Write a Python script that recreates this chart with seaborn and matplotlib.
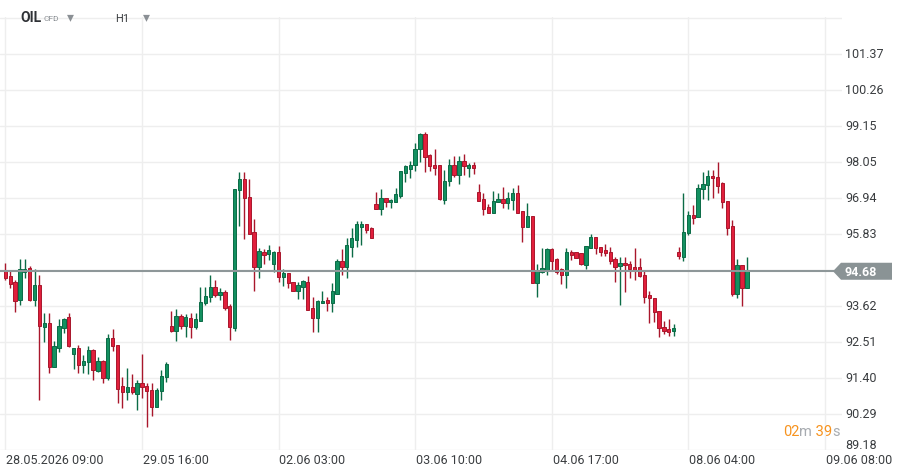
import matplotlib
matplotlib.use("Agg")
import matplotlib.pyplot as plt
import matplotlib.transforms as mtransforms
from matplotlib.patches import Polygon
import numpy as np
import pandas as pd
import seaborn as sns

# ---------------- data ----------------
opens = [94.69, 94.53, 94.34, 93.81, 94.65, 94.78, 93.81, 94.26, 92.98, 93.09,
         91.75, 92.33, 92.95, 93.28, 92.12, 92.32, 91.81, 91.88, 92.26, 91.62,
         91.92, 91.41, 92.63, 92.40, 91.15, 90.98, 91.11, 90.91, 91.24, 91.14,
         91.03, 90.50, 90.99, 91.42, 92.99, 92.83, 93.30, 93.01, 93.23, 92.98,
         93.14, 93.70, 93.88, 94.20, 93.96, 94.03, 93.62, 92.95, 97.19, 97.52,
         96.95, 95.90, 94.82, 95.26, 95.22, 94.91, 95.27, 94.51, 94.63, 94.34,
         94.06, 94.21, 94.34, 93.55, 93.24, 93.69, 93.79, 93.71, 93.99, 95.00,
         94.82, 95.44, 95.65, 96.05, 96.12, 96.01, 96.74, 96.60, 96.92, 96.80,
         96.82, 96.99, 97.71, 97.83, 97.94, 98.43, 98.90, 98.26, 97.94, 97.94,
         96.88, 97.45, 97.94, 97.65, 98.06, 97.87, 97.95, 97.12, 96.90, 96.65,
         96.48, 96.80, 96.90, 96.79, 96.88, 97.09, 96.53, 96.05, 96.37, 94.33,
         94.65, 94.72, 95.35, 95.06, 94.74, 94.58, 95.26, 95.26, 95.23, 94.88,
         95.38, 95.72, 95.42, 95.33, 95.27, 95.06, 94.83, 94.94, 94.90, 94.81,
         94.81, 94.58, 93.95, 93.86, 93.46, 92.97, 92.91, 92.85, 95.26, 95.11,
         95.85, 96.41, 96.34, 97.20, 97.33, 97.60, 97.58, 97.39, 96.84, 96.07,
         93.99, 94.87, 94.18]
highs = [94.94, 94.70, 94.41, 95.06, 95.06, 94.83, 94.75, 94.57, 93.40, 93.40,
         92.54, 93.21, 93.23, 93.40, 92.32, 92.40, 92.11, 92.38, 92.29, 92.03,
         91.95, 92.74, 92.91, 92.40, 91.44, 91.71, 91.52, 91.34, 92.14, 91.24,
         91.24, 91.08, 91.65, 91.90, 93.45, 93.52, 93.37, 93.37, 93.39, 93.40,
         94.21, 94.19, 94.57, 94.41, 94.17, 94.10, 93.67, 97.21, 97.72, 97.72,
         97.52, 96.29, 95.38, 95.37, 95.49, 95.30, 95.46, 94.75, 94.63, 94.34,
         94.34, 94.42, 94.53, 93.88, 93.79, 94.06, 93.88, 94.31, 95.06, 95.35,
         95.70, 96.01, 96.23, 96.23, 96.12, 96.05, 97.12, 97.21, 96.92, 96.90,
         97.24, 97.75, 97.95, 98.07, 98.63, 98.93, 98.95, 98.30, 98.44, 97.94,
         97.80, 98.13, 98.21, 98.21, 98.30, 98.01, 98.03, 97.36, 97.09, 96.74,
         97.15, 97.09, 97.27, 97.12, 97.24, 97.33, 96.53, 96.78, 96.37, 94.90,
         95.38, 95.38, 95.38, 95.10, 94.79, 95.39, 95.32, 95.26, 95.23, 95.45,
         95.83, 95.72, 95.42, 95.52, 95.43, 95.11, 95.11, 95.11, 94.98, 95.40,
         95.09, 94.68, 94.08, 93.86, 93.46, 93.15, 93.21, 93.06, 95.42, 97.09,
         96.54, 96.72, 97.36, 97.73, 97.80, 97.80, 98.04, 97.43, 96.84, 96.27,
         95.06, 94.87, 95.12]
lows = [94.42, 94.16, 93.42, 93.65, 94.48, 93.76, 93.62, 90.73, 92.50, 91.56,
        91.72, 92.19, 92.77, 92.36, 91.66, 91.56, 91.56, 91.53, 91.35, 91.59,
        91.24, 91.32, 92.24, 90.64, 90.46, 90.73, 90.89, 90.40, 90.77, 89.88,
        90.22, 90.50, 90.73, 91.27, 92.82, 92.52, 92.91, 92.67, 92.63, 92.89,
        93.14, 93.64, 93.73, 93.90, 93.81, 93.50, 92.58, 92.85, 96.08, 95.67,
        95.84, 94.08, 94.48, 94.91, 95.03, 94.65, 94.34, 94.23, 94.18, 94.06,
        93.83, 93.83, 93.50, 92.82, 92.82, 93.69, 93.45, 93.44, 93.99, 94.57,
        94.48, 95.13, 95.44, 95.50, 95.86, 95.71, 96.58, 96.42, 96.66, 96.64,
        96.82, 96.94, 97.41, 97.55, 97.75, 98.05, 97.74, 97.77, 97.63, 96.88,
        96.76, 97.31, 97.59, 97.37, 97.64, 97.59, 97.68, 96.85, 96.42, 96.48,
        96.48, 96.80, 96.64, 96.61, 96.57, 96.48, 95.59, 96.05, 94.33, 93.90,
        94.62, 94.58, 94.70, 94.60, 94.30, 94.15, 95.04, 95.08, 94.87, 94.75,
        95.38, 95.22, 95.16, 95.16, 94.90, 94.34, 93.65, 94.03, 94.46, 94.42,
        94.49, 93.70, 93.08, 93.11, 92.65, 92.75, 92.70, 92.68, 95.06, 94.98,
        95.80, 96.13, 96.34, 96.91, 96.88, 96.94, 97.08, 96.63, 95.78, 93.91,
        93.86, 93.62, 94.15]
closes = [94.48, 94.30, 93.78, 94.75, 94.75, 93.80, 94.26, 92.99, 93.09, 91.73,
          92.37, 92.99, 93.21, 92.37, 92.32, 91.81, 91.92, 92.26, 91.64, 91.92,
          91.41, 92.63, 92.37, 91.07, 90.98, 91.12, 90.96, 91.24, 91.13, 90.99,
          90.50, 91.03, 91.45, 91.82, 92.85, 93.30, 93.01, 93.26, 92.98, 93.20,
          93.73, 93.92, 94.20, 93.96, 94.03, 93.54, 92.96, 97.21, 97.52, 96.92,
          95.84, 94.82, 95.30, 95.18, 95.34, 95.27, 94.51, 94.63, 94.31, 94.06,
          94.26, 94.38, 93.50, 93.24, 93.76, 93.76, 93.71, 94.06, 95.00, 94.82,
          95.49, 95.70, 96.12, 96.12, 95.96, 95.71, 96.60, 96.92, 96.82, 96.87,
          97.05, 97.75, 97.91, 97.94, 98.43, 98.90, 98.20, 97.91, 97.86, 96.90,
          97.46, 97.94, 97.65, 98.06, 97.91, 97.94, 97.85, 96.85, 96.60, 96.48,
          96.84, 96.90, 96.79, 96.92, 97.09, 96.48, 96.05, 96.37, 94.33, 94.72,
          94.78, 95.35, 95.01, 94.65, 94.58, 95.26, 95.19, 95.08, 94.91, 95.45,
          95.72, 95.39, 95.28, 95.23, 95.01, 94.82, 94.94, 94.86, 94.76, 94.73,
          94.53, 93.90, 93.85, 93.42, 92.93, 92.85, 92.82, 92.94, 95.14, 95.88,
          96.41, 96.31, 97.24, 97.36, 97.60, 97.54, 97.31, 96.80, 96.02, 93.99,
          94.87, 94.18, 94.68]

price_ticks = [89.18, 90.29, 91.40, 92.51, 93.62, 94.72, 95.83, 96.94,
               98.05, 99.15, 100.26, 101.37, 102.48]
price_labels = ["89.18", "90.29", "91.40", "92.51", "93.62", "", "95.83",
                "96.94", "98.05", "99.15", "100.26", "101.37", ""]
time_tick_idx = [0, 28, 56, 84, 112, 140, 168]
time_labels = ["28.05.2026 09:00", "29.05 16:00", "02.06 03:00", "03.06 10:00",
               "04.06 17:00", "08.06 04:00", "09.06 08:00"]
last_price = 94.68
symbol = "OIL"
symbol_type = "CFD"
interval = "H1"
countdown = ["02", "m", " 39", "s"]

# ---------------- styling ----------------
sns.set_theme(style="white")
plt.rcParams["font.family"] = ["Roboto", "DejaVu Sans"]

W, H = 905, 477
fig = plt.figure(figsize=(W / 100, H / 100), dpi=100)
fig.patch.set_facecolor("white")

ax_left, ax_right, ax_top, ax_bottom = 0, 842, 18, 451.4
ax = fig.add_axes([ax_left / W, 1 - ax_bottom / H,
                   (ax_right - ax_left) / W, (ax_bottom - ax_top) / H])
ax.set_facecolor("white")

df = pd.DataFrame({"open": opens, "high": highs, "low": lows, "close": closes})
df["idx"] = np.arange(len(df))
df["up"] = df["close"] >= df["open"]

GREEN_FACE, GREEN_EDGE = "#139060", "#0b6b46"
RED_FACE, RED_EDGE = "#e11f3c", "#a9172c"
GRID = "#eeeeee"

# grid
for t in price_ticks:
    ax.axhline(t, color=GRID, lw=1.0, zorder=0)
for i in time_tick_idx:
    ax.axvline(i, color=GRID, lw=1.0, zorder=0)

# wicks
edge_cols = np.where(df["up"], GREEN_EDGE, RED_EDGE)
face_cols = np.where(df["up"], GREEN_FACE, RED_FACE)
ax.vlines(df["idx"], df["low"], df["high"], colors=edge_cols, lw=1.0, zorder=2)

# bodies
body_bottom = np.minimum(df["open"], df["close"])
body_h = np.maximum(np.abs(df["close"] - df["open"]), 0.04)
ax.bar(df["idx"], body_h, bottom=body_bottom, width=0.68, color=face_cols,
       edgecolor=edge_cols, linewidth=0.7, zorder=3)

# current price line
ax.axhline(last_price, color="#8e9799", lw=1.5, zorder=4)

ax.set_xlim(-1.09, 171.5)
ax.set_ylim(89.17, 102.50)
ax.set_xticks([])
ax.set_yticks([])
sns.despine(ax=ax, left=True, bottom=True, right=True, top=True)

TXT = "#3a3d40"
# price labels (right side)
trans_r = mtransforms.blended_transform_factory(fig.transFigure, ax.transData)
for t, lab in zip(price_ticks, price_labels):
    if not lab:
        continue
    if t == price_ticks[0]:
        fig.text(845 / W, 1 - 446 / H, lab, ha="left", va="center",
                 fontsize=9, color=TXT)
    else:
        ax.text(845 / W, t, lab, transform=trans_r, ha="left", va="center",
                fontsize=9, color=TXT, clip_on=False)

# price tag
tag_y = ax.transData.transform((0, last_price))[1]
tag_y_px = H - tag_y
tip_x, box_l, box_r, half = 833, 841, 892, 8.5
poly = Polygon([[tip_x / W, 1 - tag_y_px / H],
                [box_l / W, 1 - (tag_y_px - half) / H],
                [box_r / W, 1 - (tag_y_px - half) / H],
                [box_r / W, 1 - (tag_y_px + half) / H],
                [box_l / W, 1 - (tag_y_px + half) / H]],
               closed=True, transform=fig.transFigure, facecolor="#8a9395",
               edgecolor="none", zorder=10)
fig.patches.append(poly)
fig.text(861 / W, 1 - tag_y_px / H, f"{last_price:.2f}", ha="center",
         va="center", fontsize=9, color="white", fontweight="bold", zorder=11)

# time labels (bottom)
trans_b = mtransforms.blended_transform_factory(ax.transData, fig.transFigure)
for i, lab in zip(time_tick_idx, time_labels):
    ax.text(i + 0.2, 1 - 461 / H, lab, transform=trans_b, ha="left",
            va="center", fontsize=9, color=TXT, clip_on=False)

# header
fig.text(20 / W, 1 - 18 / H, symbol, ha="left", va="center", fontsize=10,
         fontweight="bold", color="#2f3236")
fig.text(43 / W, 1 - 19 / H, symbol_type, ha="left", va="center", fontsize=6,
         color="#8a8f94")
fig.text(70 / W, 1 - 17 / H, "\u25BE", ha="center", va="center", fontsize=10,
         color="#8a8f94", family=["DejaVu Sans"])
fig.text(115 / W, 1 - 19 / H, interval, ha="left", va="center", fontsize=8,
         color="#3a3d40")
fig.text(146 / W, 1 - 17 / H, "\u25BE", ha="center", va="center", fontsize=10,
         color="#8a8f94", family=["DejaVu Sans"])

# countdown
x0 = 783
cols = ["#f7931e", "#a7abb0", "#f7931e", "#a7abb0"]
renderer = fig.canvas.get_renderer()
for part, c in zip(countdown, cols):
    t = fig.text(x0 / W, 1 - 432 / H, part, ha="left", va="center",
                 fontsize=10.5, color=c)
    bb = t.get_window_extent(renderer=renderer)
    x0 += bb.width

fig.savefig("out.png", dpi=100, facecolor="white")
